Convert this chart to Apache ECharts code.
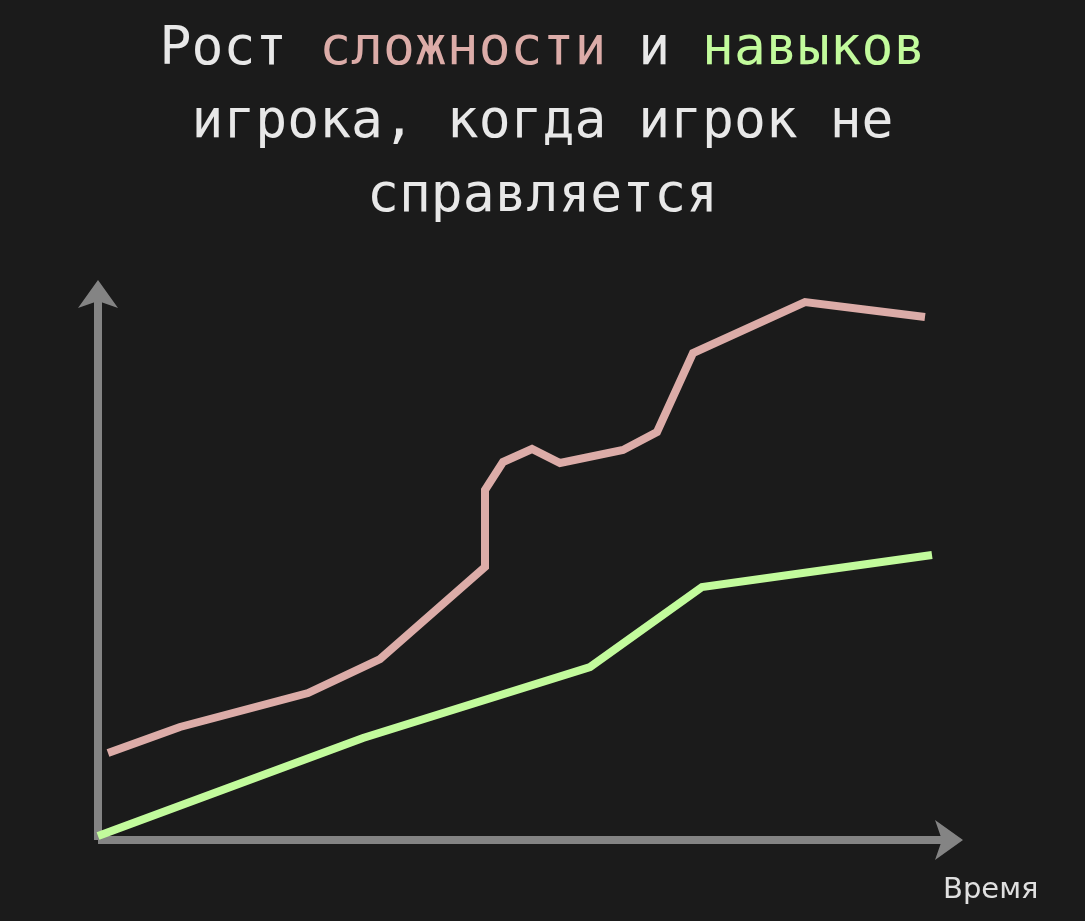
<!DOCTYPE html>
<html>
<head>
<meta charset="utf-8">
<script src="https://cdn.jsdelivr.net/npm/echarts@6/dist/echarts.min.js"></script>
<style>
html,body{margin:0;padding:0;background:#1b1b1b;}
#c{width:1085px;height:921px;}
</style>
</head>
<body>
<div id="c"></div>
<script>
// Time (x) and value (y) pairs, in arbitrary units
const difficultyX = [10, 82, 210, 282, 387, 387, 405, 434, 462, 525, 559, 595, 707, 827];
const difficultyY = [87, 113, 147, 181, 273, 350, 378, 391, 377, 390, 408, 487, 538, 523];
const skillX = [0, 265, 492, 604, 834];
const skillY = [4, 102, 173, 253, 285];
const xAxisName = 'Время';
const titleLine1 = ['Рост ', 'сложности', ' и ', 'навыков'];
const titleLine2 = 'игрока, когда игрок не';
const titleLine3 = 'справляется';

const pairs = (xs, ys) => xs.map((x, i) => [x, ys[i]]);

const chart = echarts.init(document.getElementById('c'), null, {renderer: 'canvas'});
const mono = '"DejaVu Sans Mono", "Liberation Mono", monospace';
const tStyle = {color: '#e8e8e8', fontFamily: mono, fontSize: 53, fontWeight: 'normal', lineHeight: 73,
  rich: {
    pink: {color: '#dcaca8', fontFamily: mono, fontSize: 53, lineHeight: 73},
    green: {color: '#c2fb9c', fontFamily: mono, fontSize: 53, lineHeight: 73}
  }};
chart.setOption({
  backgroundColor: '#1b1b1b',
  animation: false,
  title: [
    {text: titleLine1[0] + '{pink|' + titleLine1[1] + '}' + titleLine1[2] + '{green|' + titleLine1[3] + '}', left: 'center', top: 9, textStyle: tStyle},
    {text: titleLine2, left: 'center', top: 82, textStyle: tStyle},
    {text: titleLine3, left: 'center', top: 156, textStyle: tStyle}
  ],
  graphic: [{
    type: 'text', left: 943, top: 876,
    style: {text: xAxisName, fill: '#e0e0e0', font: '29px "DejaVu Sans", "Noto Sans", sans-serif'}
  }],
  grid: {left: 98, top: 290, width: 855, height: 550, containLabel: false},
  xAxis: {
    type: 'value', min: 0, max: 855,
    axisLine: {show: true, symbol: ['none', 'arrow'], symbolSize: [30, 28], symbolOffset: [0, 10], lineStyle: {color: '#848484', width: 8, cap: 'butt'}},
    axisTick: {show: false}, axisLabel: {show: false}, splitLine: {show: false}
  },
  yAxis: {
    type: 'value', min: 0, max: 550,
    axisLine: {show: true, symbol: ['none', 'arrow'], symbolSize: [30, 28], symbolOffset: [0, 10], lineStyle: {color: '#848484', width: 8, cap: 'butt'}},
    axisTick: {show: false}, axisLabel: {show: false}, splitLine: {show: false}
  },
  series: [
    {type: 'line', data: pairs(difficultyX, difficultyY), showSymbol: false, lineStyle: {color: '#dcaca8', width: 8, cap: 'butt', join: 'miter'}, z: 3},
    {type: 'line', data: pairs(skillX, skillY), showSymbol: false, lineStyle: {color: '#c2fb9c', width: 8, cap: 'butt', join: 'miter'}, z: 3}
  ]
});
</script>
</body>
</html>
